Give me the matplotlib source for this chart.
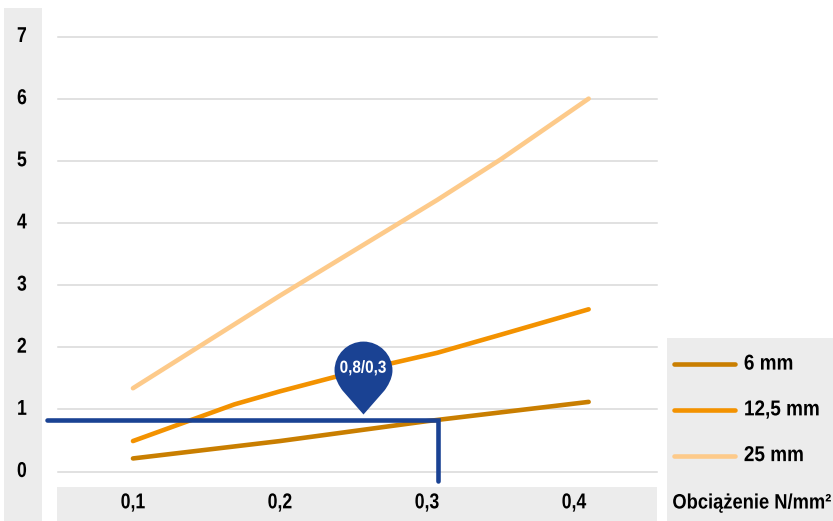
import matplotlib
matplotlib.use('Agg')
import matplotlib.pyplot as plt
from matplotlib.path import Path
from matplotlib.patches import Rectangle
from matplotlib.patheffects import AbstractPathEffect
from matplotlib.transforms import Affine2D

plt.rcParams['font.family'] = ['Liberation Sans', 'DejaVu Sans']

W, H = 833, 521

x_ticks = [0.1, 0.2, 0.3, 0.4]
x_labels = ['0,1', '0,2', '0,3', '0,4']
y_ticks = [0, 1, 2, 3, 4, 5, 6, 7]

x_6 = [0.1, 0.2, 0.3, 0.41]
y_6 = [0.21, 0.49, 0.81, 1.12]
x_12 = [0.1, 0.169, 0.2, 0.25, 0.307, 0.35, 0.41]
y_12 = [0.49, 1.08, 1.29, 1.6, 1.91, 2.2, 2.61]
x_25 = [0.1, 0.2, 0.307, 0.35, 0.41]
y_25 = [1.34, 2.83, 4.37, 5.02, 6.0]

cross_x = 0.3075
cross_y = 0.83
cross_x_start = 0.0415
cross_y_end = -0.16
pin_x = 0.2565
pin_y = 0.925
pin_label = '0,8/0,3'

c_6 = '#c97e00'
c_12 = '#f39200'
c_25 = '#fdca8a'
c_blue = '#1a4293'
c_panel = '#ececec'


class Narrow(AbstractPathEffect):
    # no narrow font installed, so squeeze the glyphs sideways
    def __init__(self, s, anchor='center', dy=0):
        super().__init__()
        self.s = s
        self.anchor = anchor
        self.dy = dy

    def draw_path(self, renderer, gc, tpath, affine, rgbFace=None):
        box = tpath.get_extents(affine)
        x0 = {'left': box.x0, 'center': (box.x0 + box.x1) / 2, 'right': box.x1}[self.anchor]
        squeeze = Affine2D().translate(-x0, 0).scale(self.s, 1).translate(x0, self.dy)
        renderer.draw_path(gc, tpath, affine + squeeze, rgbFace)


def px_rect(x0, y0, x1, y1):
    # pixel box (y from the top) -> figure rectangle
    return Rectangle((x0 / W, 1 - y1 / H), (x1 - x0) / W, (y1 - y0) / H,
                     transform=fig.transFigure, fc=c_panel, ec='none', zorder=-5)


fig = plt.figure(figsize=(8.33, 5.21), dpi=100)
fig.patches.extend([px_rect(4, 8, 42, 521), px_rect(57, 487, 657, 521), px_rect(667, 338, 833, 521)])

ax = fig.add_axes([58 / W, 1 - 471.5 / H, 599 / W, 435 / H])
ax.patch.set_alpha(0)
ax.set_xlim(0.049, 0.4565)
ax.set_ylim(0, 7)
for s in ax.spines.values():
    s.set_visible(False)

ax.set_yticks(y_ticks)
ax.set_xticks(x_ticks)
ax.set_xticklabels(x_labels)
ax.grid(axis='y', color='#d9d9d9', lw=1.1)
ax.grid(axis='x', visible=False)
ax.set_axisbelow(True)
for g in ax.get_ygridlines():
    g.set_clip_on(False)
ax.tick_params(axis='both', length=0, labelsize=15.5)
ax.tick_params(axis='y', pad=26)
ax.tick_params(axis='x', pad=15)
for t in ax.get_yticklabels():
    t.set_fontweight('bold')
    t.set_ha('center')
    t.set_va('center')
    t.set_path_effects([Narrow(0.82)])
for t in ax.get_xticklabels():
    t.set_fontweight('bold')
    t.set_path_effects([Narrow(0.82)])

ax.plot(x_6, y_6, color=c_6, lw=3.3, solid_capstyle='round', label='6 mm', clip_on=False)
ax.plot(x_12, y_12, color=c_12, lw=3.3, solid_capstyle='round', label='12,5 mm', clip_on=False)
ax.plot(x_25, y_25, color=c_25, lw=3.3, solid_capstyle='round', label='25 mm', clip_on=False)

# blue reading line
ax.plot([cross_x_start, cross_x, cross_x], [cross_y, cross_y, cross_y_end], color=c_blue, lw=3.3,
        solid_capstyle='round', solid_joinstyle='miter', clip_on=False, zorder=5)

# pin marker, tip at the origin
k = 0.5523 * 29
pin = Path([(0, 0), (-21, 24), (-24, 28), (-29, 36), (-29, 44),
            (-29, 44 + k), (-k, 73), (0, 73),
            (k, 73), (29, 44 + k), (29, 44),
            (29, 36), (24, 28), (21, 24), (0, 0)],
           [Path.MOVETO, Path.LINETO, Path.CURVE4, Path.CURVE4, Path.CURVE4,
            Path.CURVE4, Path.CURVE4, Path.CURVE4,
            Path.CURVE4, Path.CURVE4, Path.CURVE4,
            Path.CURVE4, Path.CURVE4, Path.CURVE4, Path.CLOSEPOLY])
ax.plot([pin_x], [pin_y], marker=pin, ms=105, mfc=c_blue, mec='none', ls='none', zorder=6, clip_on=False)
ax.annotate(pin_label, (pin_x, pin_y), xytext=(0, 33), textcoords='offset points', ha='center', va='center',
            color='white', fontsize=12.5, fontweight='bold', zorder=7, path_effects=[Narrow(0.88)])

leg = ax.legend(loc='upper left', bbox_to_anchor=(665 / W, 1 - 347 / H), bbox_transform=fig.transFigure,
                frameon=False, prop={'weight': 'bold', 'size': 15.5}, handlelength=2.84, handletextpad=0.42,
                labelspacing=1.15, borderpad=0.4, borderaxespad=0)
for t in leg.get_texts():
    t.set_path_effects([Narrow(0.88, anchor='left', dy=2)])

fig.text(832 / W, 1 - 503 / H, 'Obciążenie N/mm²', fontsize=15, fontweight='bold', va='center', ha='right',
         path_effects=[Narrow(0.88, anchor='right')])

fig.savefig('out.png', dpi=100)
